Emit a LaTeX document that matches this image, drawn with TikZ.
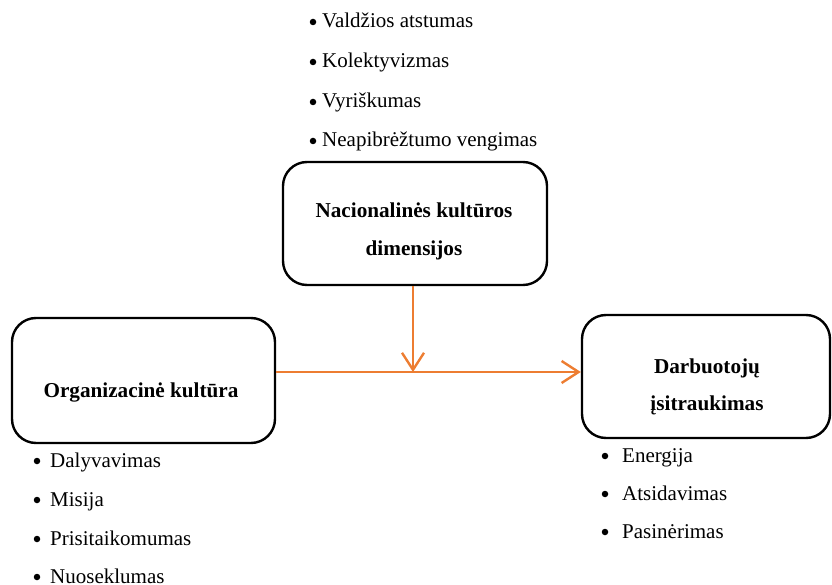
\documentclass[tikz,border=0pt]{standalone}
\usepackage{fontspec}
\setmainfont{Liberation Serif}
\usetikzlibrary{arrows.meta}
\definecolor{arrorange}{HTML}{ED7D31}
\tikzset{
  box/.style={draw=black, line width=2.4pt, rounded corners=24pt, inner sep=0pt},
  title/.style={font=\fontsize{21.2}{38}\selectfont\bfseries, anchor=base, align=center, inner sep=0pt},
  item/.style={font=\fontsize{21}{24}\selectfont, anchor=base west, inner sep=0pt},
  dot/.style={circle, fill=black, minimum size=6.5pt, inner sep=0pt},
  flow/.style={draw=arrorange, line width=2.4pt, -{Straight Barb[length=17pt, width=22pt]}}
}
\begin{document}
\begin{tikzpicture}[x=1pt, y=-1pt]
\useasboundingbox (0,0) rectangle (832,585);
% boxes
\node[box, minimum width=264pt, minimum height=123pt] (nat) at (415,223.5) {};
\node[box, minimum width=263pt, minimum height=125pt] (org) at (143.5,380.5) {};
\node[box, minimum width=248pt, minimum height=123pt] (emp) at (706,376.5) {};
% titles
\node[title] (natA) at (414,218) {Nacionalinės kultūros};
\node[title] (natB) at (414,256) {dimensijos};
\node[title] (orgT) at (141,397) {Organizacinė kultūra};
\node[title] (empA) at (707,373) {Darbuotojų};
\node[title] (empB) at (707,410) {įsitraukimas};
% connectors
\coordinate (j) at (413,372);
\draw[flow] (org.east |- j) -- (emp.west |- j);
\draw[flow] (nat.south -| j) -- (j);
% top list
\node[dot] (t1d) at (313,22) {};
\node[item] (t1) at (322,28) {Valdžios atstumas};
\node[dot] (t2d) at (313,62) {};
\node[item] (t2) at (322,68) {Kolektyvizmas};
\node[dot] (t3d) at (313,102) {};
\node[item] (t3) at (322,108) {Vyriškumas};
\node[dot] (t4d) at (313,141) {};
\node[item] (t4) at (322,147) {Neapibrėžtumo vengimas};
% left list
\node[dot] (l1d) at (37,461) {};
\node[item] (l1) at (50,467) {Dalyvavimas};
\node[dot] (l2d) at (37,500) {};
\node[item] (l2) at (50,506) {Misija};
\node[dot] (l3d) at (37,539) {};
\node[item] (l3) at (50,545) {Prisitaikomumas};
\node[dot] (l4d) at (37,577) {};
\node[item] (l4) at (50,583) {Nuoseklumas};
% right list
\node[dot] (r1d) at (605,456) {};
\node[item] (r1) at (622,462) {Energija};
\node[dot] (r2d) at (605,494) {};
\node[item] (r2) at (622,500) {Atsidavimas};
\node[dot] (r3d) at (605,532) {};
\node[item] (r3) at (622,538) {Pasinėrimas};
\end{tikzpicture}
\end{document}
